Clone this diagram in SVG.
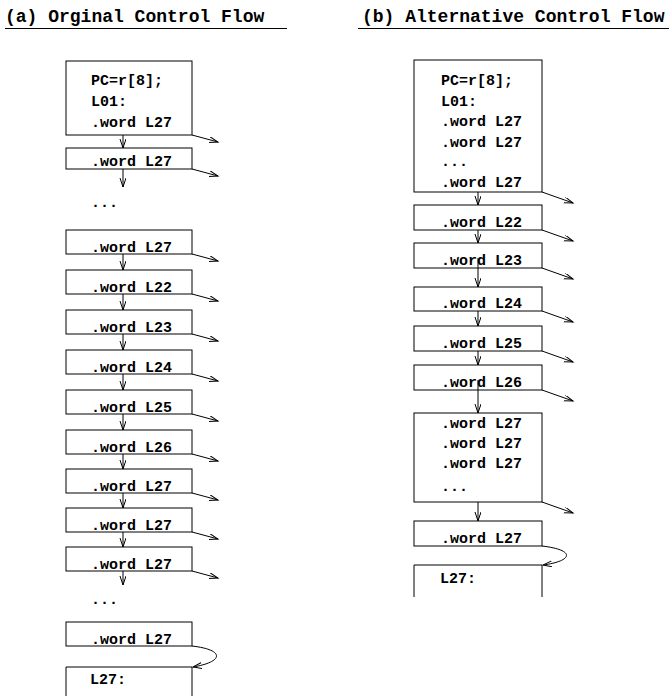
<svg xmlns="http://www.w3.org/2000/svg" width="669" height="696" viewBox="0 0 669 696">
<style>
text{font-family:"Liberation Mono","Courier New",monospace;font-weight:bold;fill:#000}
.t{font-size:18px}
.c{font-size:15px}
.b{fill:#fff;stroke:#000;stroke-width:1}
.o{fill:none;stroke:#000;stroke-width:1}
.a{fill:none;stroke:#000;stroke-width:1;marker-end:url(#ah)}
</style>
<defs>
<marker id="ah" markerUnits="userSpaceOnUse" markerWidth="12" markerHeight="8" refX="9" refY="3" orient="auto">
<path d="M0,0 L9,3 L0,6" fill="none" stroke="#000" stroke-width="1"/>
</marker>
</defs>
<rect width="669" height="696" fill="#fff"/>
<g id="title_a"><text class="t" x="5" y="22">(a) Orginal Control Flow</text><line class="o" x1="5" y1="28.5" x2="287" y2="28.5"/></g>
<g id="title_b"><text class="t" x="362" y="22">(b) Alternative Control Flow</text><line class="o" x1="358" y1="28.5" x2="669" y2="28.5"/></g>

<g id="a_entry"><rect class="b" x="66" y="61" width="126" height="74"/>
<text class="c" x="91" y="85">PC=r[8];</text><text class="c" x="91" y="106">L01:</text><text class="c" x="91" y="127">.word L27</text></g>
<g id="a_w1"><rect class="b" x="66" y="148" width="126" height="21"/><text class="c" x="91" y="166">.word L27</text></g>
<g id="a_dots1"><text class="c" x="91" y="207">...</text></g>
<g id="a_w2"><rect class="b" x="66" y="230" width="126" height="24"/><text class="c" x="91" y="252">.word L27</text></g>
<g id="a_w3"><rect class="b" x="66" y="270" width="126" height="24"/><text class="c" x="91" y="292">.word L22</text></g>
<g id="a_w4"><rect class="b" x="66" y="310" width="126" height="24"/><text class="c" x="91" y="332">.word L23</text></g>
<g id="a_w5"><rect class="b" x="66" y="350" width="126" height="24"/><text class="c" x="91" y="372">.word L24</text></g>
<g id="a_w6"><rect class="b" x="66" y="390" width="126" height="24"/><text class="c" x="91" y="412">.word L25</text></g>
<g id="a_w7"><rect class="b" x="66" y="430" width="126" height="24"/><text class="c" x="91" y="452">.word L26</text></g>
<g id="a_w8"><rect class="b" x="66" y="469" width="126" height="24"/><text class="c" x="91" y="491">.word L27</text></g>
<g id="a_w9"><rect class="b" x="66" y="508" width="126" height="24"/><text class="c" x="91" y="530">.word L27</text></g>
<g id="a_w10"><rect class="b" x="66" y="547" width="126" height="24"/><text class="c" x="91" y="569">.word L27</text></g>
<g id="a_dots2"><text class="c" x="91" y="604">...</text></g>
<g id="a_w11"><rect class="b" x="66" y="622" width="126" height="24"/><text class="c" x="91" y="644">.word L27</text></g>
<g id="a_l27"><path class="o" d="M66,697 V667 H192 V697"/><text class="c" x="90" y="684">L27:</text></g>

<g id="b_entry"><rect class="b" x="414" y="60" width="128" height="132"/>
<text class="c" x="441" y="85">PC=r[8];</text><text class="c" x="441" y="105.5">L01:</text><text class="c" x="441" y="126">.word L27</text><text class="c" x="441" y="146.5">.word L27</text><text class="c" x="441" y="166">...</text><text class="c" x="441" y="186.5">.word L27</text></g>
<g id="b_w1"><rect class="b" x="414" y="205" width="128" height="25"/><text class="c" x="441" y="227">.word L22</text></g>
<g id="b_w2"><rect class="b" x="414" y="243" width="128" height="25"/><text class="c" x="441" y="265">.word L23</text></g>
<g id="b_w3"><rect class="b" x="414" y="287" width="128" height="24"/><text class="c" x="441" y="308">.word L24</text></g>
<g id="b_w4"><rect class="b" x="414" y="326" width="128" height="25"/><text class="c" x="441" y="348">.word L25</text></g>
<g id="b_w5"><rect class="b" x="414" y="365" width="128" height="25"/><text class="c" x="441" y="387">.word L26</text></g>
<g id="b_block"><rect class="b" x="414" y="413" width="128" height="89"/>
<text class="c" x="441" y="428">.word L27</text><text class="c" x="441" y="448">.word L27</text><text class="c" x="441" y="468">.word L27</text><text class="c" x="441" y="491">...</text></g>
<g id="b_w6"><rect class="b" x="414" y="521" width="128" height="25"/><text class="c" x="441" y="543">.word L27</text></g>
<g id="b_l27"><path class="o" d="M414,597 V565 H542 V597"/><text class="c" x="440" y="583">L27:</text></g>

<g id="connectors">
<path class="a" d="M123,135 V148"/>
<path class="a" d="M123,169 V187"/>
<path class="a" d="M123,254 V270"/>
<path class="a" d="M123,294 V310"/>
<path class="a" d="M123,334 V350"/>
<path class="a" d="M123,374 V390"/>
<path class="a" d="M123,414 V430"/>
<path class="a" d="M123,454 V469"/>
<path class="a" d="M123,493 V508"/>
<path class="a" d="M123,532 V547"/>
<path class="a" d="M123,571 V585"/>
<path class="a" d="M192,135 L218,142"/>
<path class="a" d="M192,169 L218,176"/>
<path class="a" d="M192,254 L218,261"/>
<path class="a" d="M192,294 L218,301"/>
<path class="a" d="M192,334 L218,341"/>
<path class="a" d="M192,374 L218,381"/>
<path class="a" d="M192,414 L218,421"/>
<path class="a" d="M192,454 L218,461"/>
<path class="a" d="M192,493 L218,500"/>
<path class="a" d="M192,532 L218,539"/>
<path class="a" d="M192,571 L218,578"/>
<path class="a" d="M192,646 C226,650 223,662 193,667"/>
<path class="a" d="M478,192 V205"/>
<path class="a" d="M478,230 V243"/>
<path class="a" d="M478,258 V287"/>
<path class="a" d="M478,311 V326"/>
<path class="a" d="M478,351 V365"/>
<path class="a" d="M478,380 V413"/>
<path class="a" d="M478,502 V521"/>
<path class="a" d="M542,192 L573,203"/>
<path class="a" d="M542,230 L573,241"/>
<path class="a" d="M542,268 L573,279"/>
<path class="a" d="M542,311 L573,322"/>
<path class="a" d="M542,351 L573,362"/>
<path class="a" d="M542,390 L573,401"/>
<path class="a" d="M542,502 L573,513"/>
<path class="a" d="M542,546 C576,550 573,561 543,565"/>
</g>
</svg>
